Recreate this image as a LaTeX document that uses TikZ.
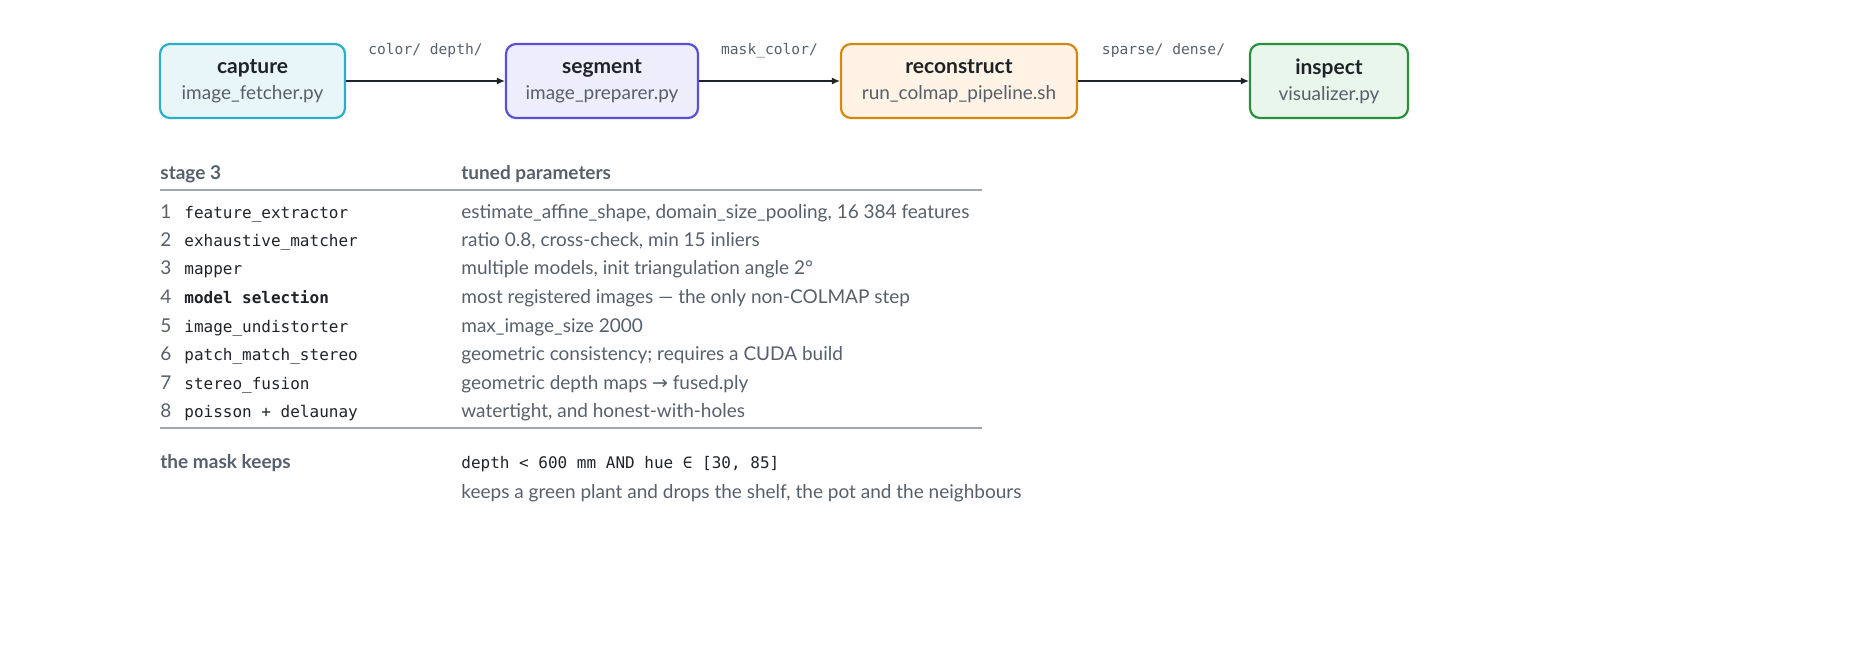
\documentclass[tikz,border=0pt]{standalone}
\usepackage{fontspec}
\setmainfont{Lato}
\setmonofont{DejaVu Sans Mono}
\newfontfamily\symfont{DejaVu Sans}
\usetikzlibrary{arrows.meta}
\definecolor{ink}{HTML}{1F2328}
\definecolor{dim}{HTML}{57606A}
\definecolor{rule}{HTML}{A0A8B0}
\definecolor{capB}{HTML}{2BAFC6}\definecolor{capF}{HTML}{E8F6FA}
\definecolor{segB}{HTML}{5A50D8}\definecolor{segF}{HTML}{EEEDFB}
\definecolor{recB}{HTML}{D3890F}\definecolor{recF}{HTML}{FEF3E4}
\definecolor{insB}{HTML}{2A8F3A}\definecolor{insF}{HTML}{E9F6EC}
\begin{document}
\begin{tikzpicture}[x=0.5pt,y=-0.5pt,
                    stage/.style={draw, rounded corners=5pt, line width=1.1pt, align=center, inner sep=0pt},
                    flow/.style={-{Latex[length=4pt,width=3.5pt]}, ink, line width=0.6pt},
                    lab/.style={font=\ttfamily\fontsize{7.3}{9}\selectfont, text=dim},
                    cell/.style={anchor=base west, inner sep=0pt, font=\fontsize{9.5}{11}\selectfont, text=dim},
                    code/.style={anchor=base west, inner sep=0pt, font=\ttfamily\fontsize{8}{10}\selectfont, text=ink},
                    head/.style={cell, font=\bfseries\fontsize{9.5}{11}\selectfont}]
    \useasboundingbox (0,0) rectangle (1855,644);

    % pipeline
    \newcommand{\stagetext}[2]{{\bfseries\fontsize{10.5}{12}\selectfont\color{ink}#1}\\[1pt]{\fontsize{9.5}{11}\selectfont\color{dim}#2}}
    \node[stage, draw=capB, fill=capF, minimum width=92.5pt, minimum height=37pt] (capture) at (252.5,81) {\stagetext{capture}{image\_fetcher.py}};
    \node[stage, draw=segB, fill=segF, minimum width=96pt, minimum height=37pt] (segment) at (602,81) {\stagetext{segment}{image\_preparer.py}};
    \node[stage, draw=recB, fill=recF, minimum width=118pt, minimum height=37pt] (reconstruct) at (959,81) {\stagetext{reconstruct}{run\_colmap\_pipeline.sh}};
    \node[stage, draw=insB, fill=insF, minimum width=79pt, minimum height=37pt] (inspect) at (1329,81) {\stagetext{inspect}{visualizer.py}};

    \draw[flow] (capture) -- node[lab, above=8pt] {color/ depth/} (segment);
    \draw[flow] (segment) -- node[lab, above=8pt] {mask\_color/} (reconstruct);
    \draw[flow] (reconstruct) -- node[lab, above=8pt] {sparse/ dense/} (inspect);

    % table
    \node[head] (h1) at (160,179) {stage 3};
    \node[head] (h2) at (461,179) {tuned parameters};
    \coordinate (r1a) at (160,190); \coordinate (r1b) at (982,190);
    \coordinate (r2a) at (160,428); \coordinate (r2b) at (982,428);
    \draw[rule, line width=0.6pt] (r1a) -- (r1b);
    \draw[rule, line width=0.6pt] (r2a) -- (r2b);

    \foreach \i/\y/\name/\what in {
        1/218/feature\_extractor/{estimate\_affine\_shape, domain\_size\_pooling, 16 384 features},
        2/246/exhaustive\_matcher/{ratio 0.8, cross-check, min 15 inliers},
        3/274/mapper/{multiple models, init triangulation angle 2°},
        4/303/\textbf{model selection}/{most registered images — the only non-COLMAP step},
        5/332/image\_undistorter/{max\_image\_size 2000},
        6/360/patch\_match\_stereo/{geometric consistency; requires a CUDA build},
        7/389/stereo\_fusion/{geometric depth maps {\symfont →} fused.ply},
        8/417/poisson + delaunay/{watertight, and honest-with-holes}}{
        \node[cell] (n\i) at (160,\y) {\i};
        \node[code] (s\i) at (184,\y) {\name};
        \node[cell] (p\i) at (461,\y) {\what};
    }

    \node[head] (mask) at (160,468) {the mask keeps};
    \node[code] (rule) at (461,468) {depth < 600 mm AND hue ∈ [30, 85]};
    \node[cell] (note) at (461,498) {keeps a green plant and drops the shelf, the pot and the neighbours};
\end{tikzpicture}
\end{document}
